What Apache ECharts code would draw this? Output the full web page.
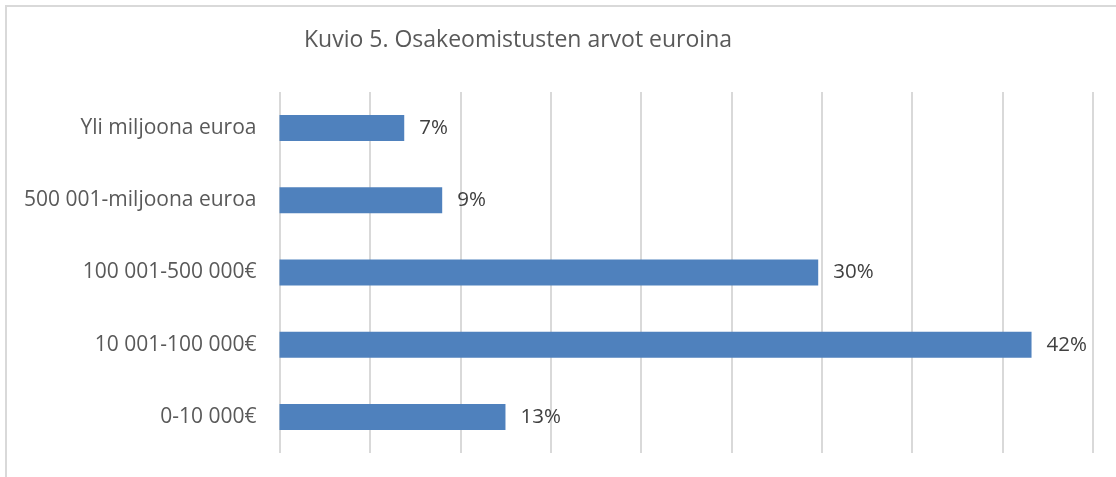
<!DOCTYPE html>
<html>
<head>
<meta charset="utf-8">
<script src="https://cdn.jsdelivr.net/npm/echarts@6/dist/echarts.min.js"></script>
<style>
html,body{margin:0;padding:0;background:#fff;overflow:hidden;}
#frame{position:absolute;left:5px;top:5px;width:1300px;height:700px;border-top:2px solid #d9d9d9;border-left:2px solid #d9d9d9;}
#chart{position:absolute;left:0;top:0;width:1116px;height:477px;}
</style>
</head>
<body>
<div id="frame"></div>
<div id="chart"></div>
<script>
var titleText = 'Kuvio 5. Osakeomistusten arvot euroina';
var categories = ['0-10 000€', '10 001-100 000€', '100 001-500 000€', '500 001-miljoona euroa', 'Yli miljoona euroa'];
var values = [12.5, 41.6, 29.8, 9.0, 6.9];
var valueLabels = ['13%', '42%', '30%', '9%', '7%'];

var FONT = '"Open Sans"';
var chart = echarts.init(document.getElementById('chart'), null, {renderer: 'canvas'});
chart.setOption({
  animation: false,
  backgroundColor: 'transparent',
  title: {
    text: titleText,
    left: 513,
    top: 24,
    textAlign: 'center',
    textStyle: {fontFamily: FONT, fontSize: 23, fontWeight: 'normal', color: '#595959'}
  },
  grid: {left: 279.5, right: 23, top: 92, bottom: 24, containLabel: false},
  xAxis: {
    type: 'value',
    min: 0, max: 45, interval: 5,
    axisLabel: {show: false},
    axisLine: {show: false},
    axisTick: {show: false},
    splitLine: {show: true, lineStyle: {color: '#d9d9d9', width: 2}}
  },
  yAxis: {
    type: 'category',
    data: categories,
    axisLine: {show: false},
    axisTick: {show: false},
    axisLabel: {margin: 23, fontFamily: FONT, fontSize: 21, color: '#595959'}
  },
  series: [{
    type: 'bar',
    data: values,
    barCategoryGap: '64%',
    itemStyle: {color: '#4f81bd'},
    label: {
      show: true,
      position: 'right',
      distance: 15,
      fontFamily: FONT,
      fontSize: 20.5,
      color: '#404040',
      formatter: function (p) { return valueLabels[p.dataIndex]; }
    }
  }]
});
</script>
</body>
</html>
